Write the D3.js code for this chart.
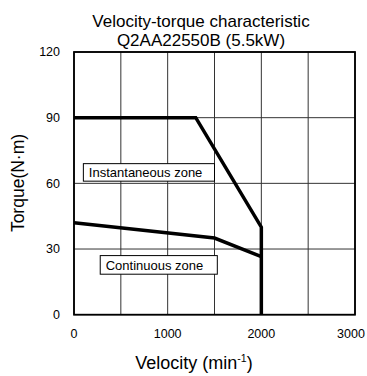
<!DOCTYPE html>
<html>
<head>
<meta charset="utf-8">
<script src="https://cdn.jsdelivr.net/npm/d3@7"></script>
<style>
  body { margin: 0; background: #fff; }
  text { font-family: "Liberation Sans", Arial, sans-serif; fill: #000; }
</style>
</head>
<body>
<svg id="chart" width="367" height="376"></svg>
<script>
// data
var titleLines = ["Velocity-torque characteristic", "Q2AA22550B (5.5kW)"];
var xTicks = [0, 1000, 2000, 3000];
var xGrid = [0, 500, 1000, 1500, 2000, 2500, 3000];
var yTicks = [0, 30, 60, 90, 120];
// instantaneous zone boundary (velocity, torque)
var instVelocity = [0, 1300, 2000, 2000];
var instTorque = [90, 90, 40, 0];
// continuous zone boundary
var contVelocity = [0, 1500, 2000];
var contTorque = [42, 35, 26.5];
// zone labels: [x0, x1, yTop, yBottom] in data units
var zoneNames = ["Instantaneous zone", "Continuous zone"];
var zoneBoxes = [[100, 1500, 69, 61], [280, 1530, 27, 18.5]];

var svg = d3.select("#chart");
var padding = {left: 74, right: 12, top: 52, bottom: 61.3};
var width = 367, height = 376;

//x scale
var x = d3.scaleLinear().domain([0, 3000]).range([padding.left, width - padding.right]);
//y scale
var y = d3.scaleLinear().domain([0, 120]).range([height - padding.bottom, padding.top]);

// grid
svg.append("g").selectAll("line").data(xGrid).enter().append("line")
  .attr("x1", function(d){ return x(d); }).attr("x2", function(d){ return x(d); })
  .attr("y1", y(0)).attr("y2", y(120))
  .attr("stroke", "#333").attr("stroke-width", 1);
svg.append("g").selectAll("line").data(yTicks).enter().append("line")
  .attr("x1", x(0)).attr("x2", x(3000))
  .attr("y1", function(d){ return y(d); }).attr("y2", function(d){ return y(d); })
  .attr("stroke", "#333").attr("stroke-width", 1);

// frame
svg.append("rect")
  .attr("x", x(0)).attr("y", y(120))
  .attr("width", x(3000) - x(0)).attr("height", y(0) - y(120))
  .attr("fill", "none").attr("stroke", "#000").attr("stroke-width", 1.8);

// tick labels
svg.append("g").selectAll("text").data(yTicks).enter().append("text")
  .attr("x", 60).attr("y", function(d){ return y(d); })
  .attr("dy", "0.35em").attr("text-anchor", "end")
  .style("font-size", "12.5px")
  .text(function(d){ return d; });
svg.append("g").selectAll("text").data(xTicks).enter().append("text")
  .attr("x", function(d){ return Math.min(x(d), 351); }).attr("y", 338)
  .attr("text-anchor", "middle")
  .style("font-size", "12.5px")
  .text(function(d){ return d; });

// zone label boxes
var boxes = svg.append("g").selectAll("g").data(zoneBoxes).enter().append("g");
boxes.append("rect")
  .attr("x", function(d){ return x(d[0]); })
  .attr("y", function(d){ return y(d[2]); })
  .attr("width", function(d){ return x(d[1]) - x(d[0]); })
  .attr("height", function(d){ return y(d[3]) - y(d[2]); })
  .attr("fill", "#fff").attr("stroke", "#000").attr("stroke-width", 1);
boxes.append("text")
  .attr("x", function(d){ return x(d[0]) + 5.5; })
  .attr("y", function(d){ return (y(d[2]) + y(d[3])) / 2; })
  .attr("dy", "0.36em")
  .style("font-size", "13px")
  .text(function(d, i){ return zoneNames[i]; });

// curves
var line = d3.line()
  .x(function(d){ return x(d[0]); })
  .y(function(d){ return y(d[1]); });
svg.append("path")
  .attr("d", line(d3.zip(instVelocity, instTorque)))
  .attr("fill", "none").attr("stroke", "#000").attr("stroke-width", 3.5)
  .attr("stroke-linejoin", "miter");
svg.append("path")
  .attr("d", line(d3.zip(contVelocity, contTorque)))
  .attr("fill", "none").attr("stroke", "#000").attr("stroke-width", 3.5);

// title
svg.append("g").selectAll("text").data(titleLines).enter().append("text")
  .attr("x", 201).attr("y", function(d, i){ return 27 + i * 19.2; })
  .attr("text-anchor", "middle")
  .style("font-size", "17px")
  .text(function(d){ return d; });

// axis titles
svg.append("text")
  .attr("transform", "translate(24,183) rotate(-90)")
  .attr("text-anchor", "middle")
  .style("font-size", "17.5px")
  .text("Torque(N·m)");
var xl = svg.append("text")
  .attr("x", 194).attr("y", 369)
  .attr("text-anchor", "middle")
  .style("font-size", "18px");
xl.append("tspan").text("Velocity (min");
xl.append("tspan").attr("dy", -7).style("font-size", "10.5px").text("-1");
xl.append("tspan").attr("dy", 7).text(")");
</script>
</body>
</html>
